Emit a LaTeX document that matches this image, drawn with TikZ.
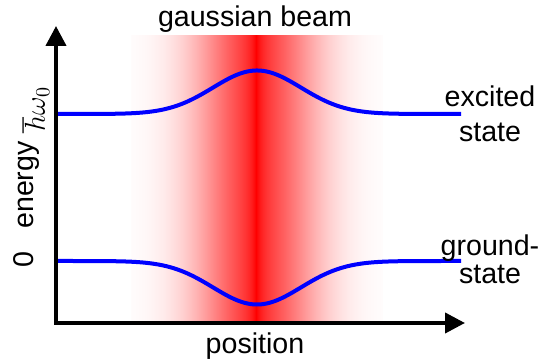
\documentclass[tikz,border=0pt]{standalone}
\usepackage{fontspec}
\setmainfont{Liberation Sans}
\usetikzlibrary{arrows.meta}
\begin{document}
\begin{tikzpicture}[x=0.5pt,y=-0.5pt,
  lbl/.style={inner sep=0pt,font=\fontsize{14.3}{17}\selectfont},
  axisline/.style={line width=2pt,{Triangle[length=10pt,width=10pt]}-{Triangle[length=10pt,width=10pt]}},
  level/.style={blue,line width=2pt}]
\useasboundingbox (0,0) rectangle (547,362);
% gaussian beam
\foreach \i in {-125,...,125}{
  \pgfmathsetmacro\p{100*(0.25*exp(-abs(\i)/8)+0.75*exp(-0.5*(\i/44)^2))}
  \fill[red!\p!white] (257+\i-0.7,35) rectangle (257+\i+0.7,322);
}
% axes
\coordinate (origin) at (56,323);
\coordinate (ytip) at (56,26);
\coordinate (xtip) at (465,323);
\draw[axisline] (ytip) -- (origin) -- (xtip);
% levels
\draw[level] plot[domain=58:461,samples=200] (\x,{114-43.5*exp(-0.5*((\x-257)/44)^2)});
\draw[level] plot[domain=58:461,samples=200] (\x,{261+43.5*exp(-0.5*((\x-257)/44)^2)});
% labels
\node[lbl,anchor=base] (title) at (255,27) {gaussian beam};
\node[lbl,anchor=base] (xlabel) at (255,354) {position};
\node[lbl,anchor=base,rotate=90] (ylabel) at (33,185) {energy};
\node[lbl,anchor=base,rotate=90] (zero) at (33,260) {0};
\node[lbl,anchor=base,rotate=90] (hw) at (45,110) {$\hbar\omega_0$};
\node[lbl,anchor=base] (exc1) at (490,107) {excited};
\node[lbl,anchor=base] (exc2) at (490,142) {state};
\node[lbl,anchor=base] (gnd1) at (490,256) {ground-};
\node[lbl,anchor=base] (gnd2) at (490,284) {state};
\end{tikzpicture}
\end{document}
